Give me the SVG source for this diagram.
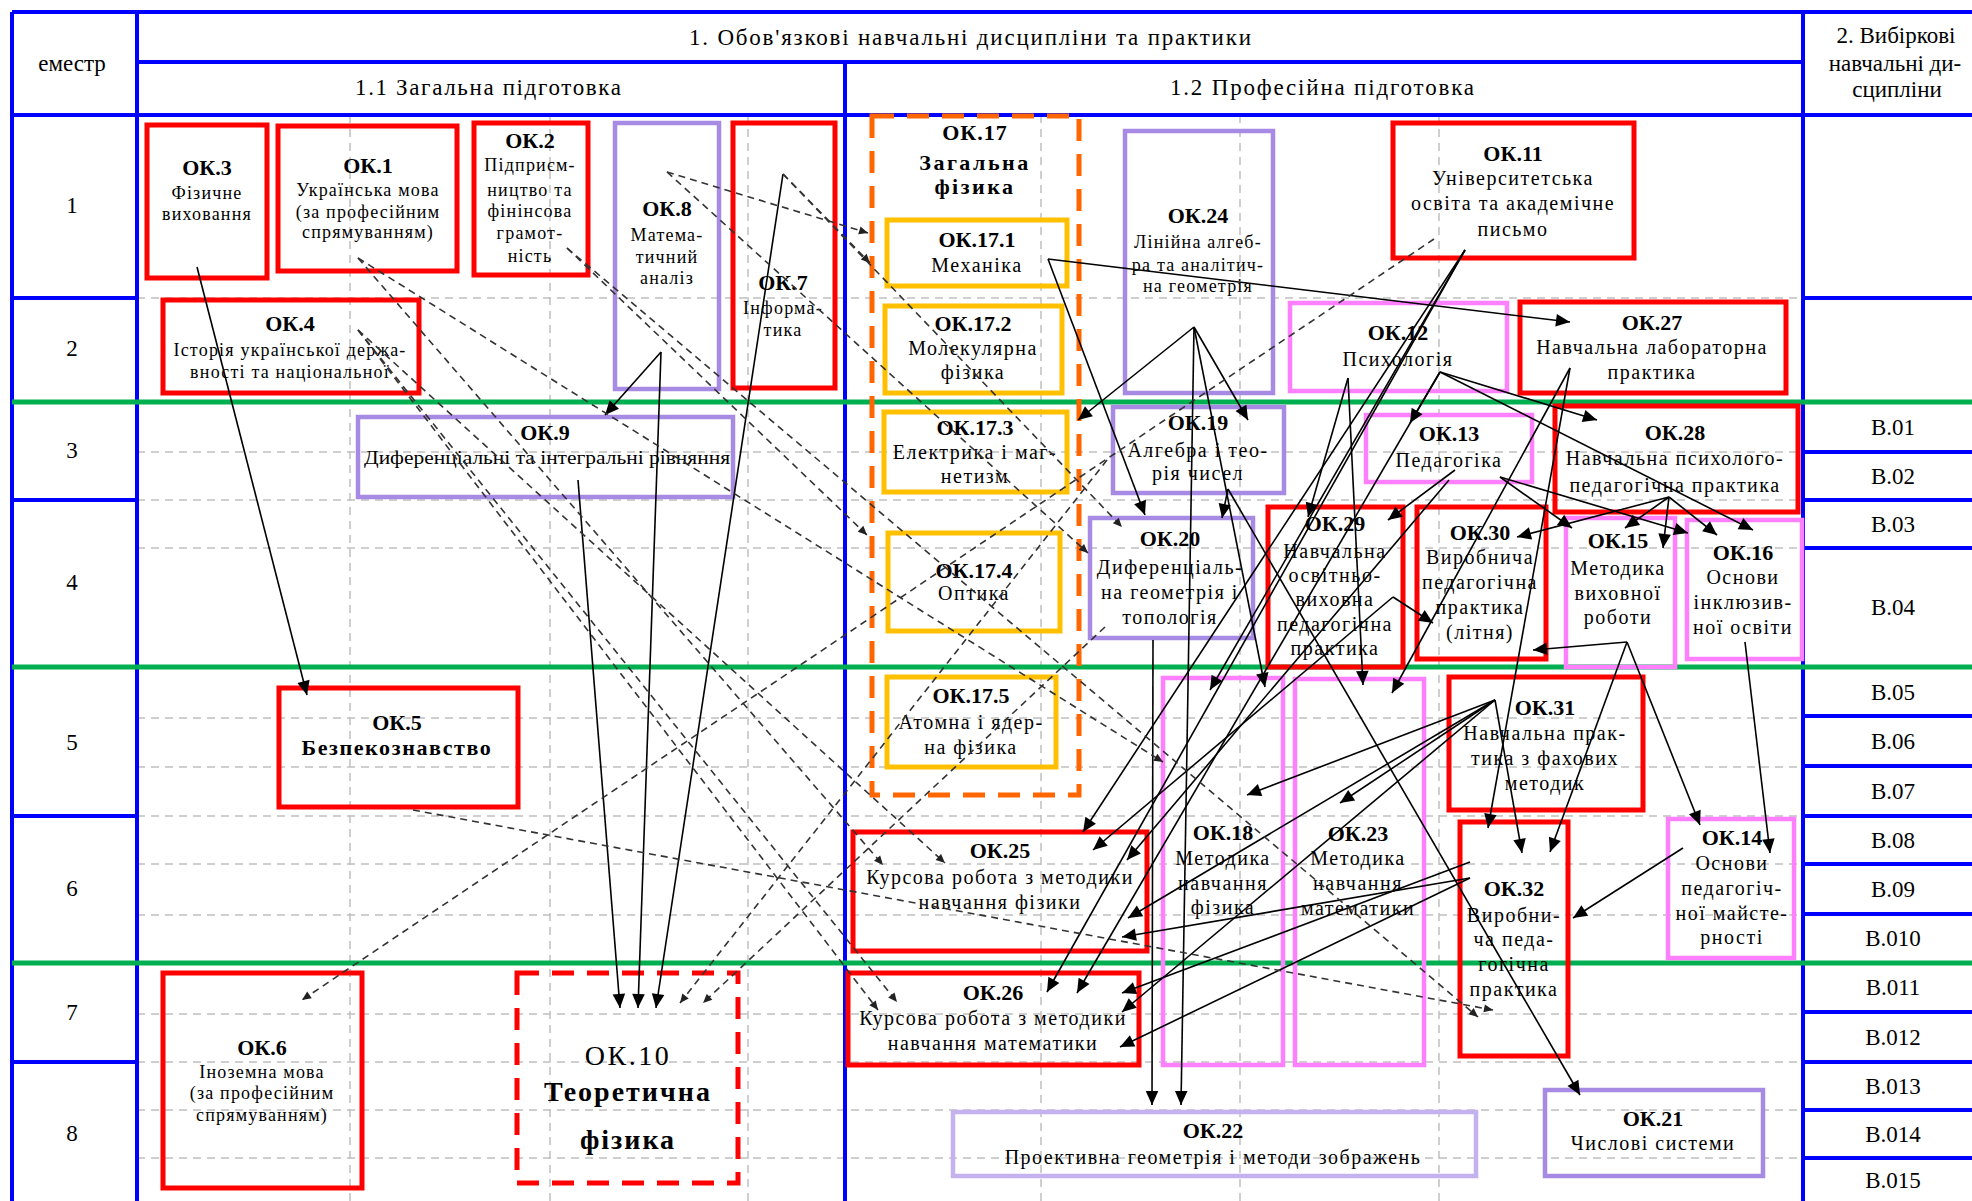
<svg xmlns="http://www.w3.org/2000/svg" width="1972" height="1201" viewBox="0 0 1972 1201">
<defs>
<marker id="a" viewBox="0 0 10 10" refX="10" refY="5" markerWidth="16" markerHeight="14" markerUnits="userSpaceOnUse" orient="auto"><path d="M0,0.5 L10,5 L0,9.5z" fill="#000"/></marker>
<marker id="d" viewBox="0 0 10 10" refX="10" refY="5" markerWidth="10" markerHeight="9" markerUnits="userSpaceOnUse" orient="auto"><path d="M0,0.5 L10,5 L0,9.5z" fill="#222"/></marker>
</defs>
<style>
text{font-family:"Liberation Serif","Times New Roman",serif;fill:#000;text-anchor:middle;dominant-baseline:central}
.t{font-size:22px;font-weight:bold}
.s{font-size:20px;letter-spacing:1.5px}
.ss{font-size:18px;letter-spacing:1.2px}
.h{font-size:23px}
.gd{stroke:#c0c0c0;stroke-width:1.5;stroke-dasharray:8 6;fill:none}
.bl{stroke:#0000ff;stroke-width:4;fill:none}
.gn{stroke:#00b050;stroke-width:5;fill:none}
.r{fill:none;stroke:#ff0000;stroke-width:5}
.p{fill:none;stroke:#a68ae4;stroke-width:4.5}
.m{fill:none;stroke:#ff80ff;stroke-width:4.5}
.y{fill:none;stroke:#ffc000;stroke-width:5}
.c{stroke:#000;stroke-width:1.6;fill:none;marker-end:url(#a)}
.cd{stroke:#333;stroke-width:1.6;fill:none;stroke-dasharray:7 5;marker-end:url(#d)}
</style>
<rect width="1972" height="1201" fill="#fff"/>
<g id="grid">
<path class="gd" d="M137,298H1803M137,452H1803M137,500H1803M137,548H1803M137,718H1803M137,767H1803M137,816H1803M137,864H1803M137,915H1803M137,1014H1803M137,1062H1803M137,1110H1803M137,1158H1803"/>
<path class="gd" d="M350,115V1201M550,115V1201M748,115V1201M1041,115V1201M1240,115V1201M1439,115V1201"/>
<path class="bl" d="M12,12H1972M12,115H1972M137,62H1803M12,12V1201M137,12V1201M845,62V1201M1803,12V1201"/>
<path class="bl" d="M12,298H137M12,500H137M12,816H137M12,1062H137"/>
<path class="bl" d="M1803,298H1972M1803,452H1972M1803,500H1972M1803,548H1972M1803,716H1972M1803,766H1972M1803,816H1972M1803,864H1972M1803,914H1972M1803,1012H1972M1803,1062H1972M1803,1110H1972M1803,1158H1972"/>
<path class="gn" d="M12,402H1972M12,667H1972M12,963H1972"/>
</g>
<g id="headers">
<text class="h" x="72" y="63" font-size="21">еместр</text>
<text class="h" x="970" y="37" textLength="562" lengthAdjust="spacing">1. Обов'язкові навчальні дисципліни та практики</text>
<text class="h" x="488" y="87" textLength="266" lengthAdjust="spacing">1.1 Загальна підготовка</text>
<text class="h" x="1322" y="87" textLength="304" lengthAdjust="spacing">1.2 Професійна підготовка</text>
<text class="h" x="1896" y="35">2. Вибіркові</text>
<text class="h" x="1895" y="63">навчальні ди-</text>
<text class="h" x="1897" y="89">сципліни</text>
<text class="h" x="72" y="205">1</text>
<text class="h" x="72" y="348">2</text>
<text class="h" x="72" y="450">3</text>
<text class="h" x="72" y="582">4</text>
<text class="h" x="72" y="742">5</text>
<text class="h" x="72" y="888">6</text>
<text class="h" x="72" y="1012">7</text>
<text class="h" x="72" y="1133">8</text>
</g>
<g id="electives">
<text class="h" x="1893" y="427">В.01</text>
<text class="h" x="1893" y="476">В.02</text>
<text class="h" x="1893" y="524">В.03</text>
<text class="h" x="1893" y="607">В.04</text>
<text class="h" x="1893" y="692">В.05</text>
<text class="h" x="1893" y="741">В.06</text>
<text class="h" x="1893" y="791">В.07</text>
<text class="h" x="1893" y="840">В.08</text>
<text class="h" x="1893" y="889">В.09</text>
<text class="h" x="1893" y="938">В.010</text>
<text class="h" x="1893" y="987">В.011</text>
<text class="h" x="1893" y="1037">В.012</text>
<text class="h" x="1893" y="1086">В.013</text>
<text class="h" x="1893" y="1134">В.014</text>
<text class="h" x="1893" y="1180">В.015</text>
</g>
<g id="ok3"><rect class="r" x="147" y="125" width="120" height="153"/><text class="t" x="207" y="167">ОК.3</text><text class="ss" x="207" y="193">Фізичне</text><text class="ss" x="207" y="214">виховання</text></g>
<g id="ok1"><rect class="r" x="278" y="126" width="179" height="145"/><text class="t" x="368" y="165">ОК.1</text><text class="ss" x="368" y="190">Українська мова</text><text class="ss" x="368" y="212">(за професійним</text><text class="ss" x="368" y="232">спрямуванням)</text></g>
<g id="ok2"><rect class="r" x="474" y="123" width="114" height="152"/><text class="t" x="530" y="140">ОК.2</text><text class="ss" x="530" y="165">Підприєм-</text><text class="ss" x="530" y="190">ництво та</text><text class="ss" x="530" y="211">фінінсова</text><text class="ss" x="530" y="233">грамот-</text><text class="ss" x="530" y="256">ність</text></g>
<g id="ok8"><rect class="p" x="615" y="123" width="104" height="266"/><text class="t" x="667" y="208">ОК.8</text><text class="ss" x="667" y="235">Матема-</text><text class="ss" x="667" y="257">тичний</text><text class="ss" x="667" y="278">аналіз</text></g>
<g id="ok7"><rect class="r" x="733" y="123" width="102" height="265"/><text class="t" x="783" y="282">ОК.7</text><text class="ss" x="783" y="308">Інформа-</text><text class="ss" x="783" y="330">тика</text></g>
<g id="ok4"><rect class="r" x="163" y="300" width="256" height="93"/><text class="t" x="290" y="323">ОК.4</text><text class="ss" x="290" y="350">Історія української держа-</text><text class="ss" x="290" y="372">вності  та національної</text></g>
<g id="ok9"><rect class="p" x="358" y="417" width="375" height="80"/><text class="t" x="545" y="432">ОК.9</text><text x="547" y="458" font-size="18" textLength="366" lengthAdjust="spacingAndGlyphs">Диференціальні та інтегральні рівняння</text></g>
<g id="ok17"><rect x="872" y="116" width="207" height="679" fill="none" stroke="#ff6600" stroke-width="5" stroke-dasharray="22 13"/><text class="t" x="975" y="132" letter-spacing="1">ОК.17</text><text class="t" x="975" y="162" letter-spacing="2.5">Загальна</text><text class="t" x="975" y="186" letter-spacing="2.5">фізика</text></g>
<g id="ok17-1"><rect class="y" x="887" y="220" width="180" height="66"/><text class="t" x="977" y="239">ОК.17.1</text><text class="s" x="977" y="265">Механіка</text></g>
<g id="ok17-2"><rect class="y" x="885" y="306" width="177" height="87"/><text class="t" x="973" y="323">ОК.17.2</text><text class="s" x="973" y="348">Молекулярна</text><text class="s" x="973" y="372">фізика</text></g>
<g id="ok17-3"><rect class="y" x="884" y="412" width="183" height="80"/><text class="t" x="975" y="427">ОК.17.3</text><text class="s" x="975" y="452">Електрика і маг-</text><text class="s" x="975" y="476">нетизм</text></g>
<g id="ok17-4"><rect class="y" x="888" y="533" width="172" height="98"/><text class="t" x="974" y="570">ОК.17.4</text><text class="s" x="974" y="593">Оптика</text></g>
<g id="ok17-5"><rect class="y" x="887" y="677" width="169" height="90"/><text class="t" x="971" y="695">ОК.17.5</text><text class="s" x="971" y="722">Атомна і ядер-</text><text class="s" x="971" y="747">на фізика</text></g>
<g id="ok24"><rect class="p" x="1125" y="131" width="148" height="262"/><text class="t" x="1198" y="215">ОК.24</text><text class="ss" x="1198" y="242">Лінійна алгеб-</text><text class="ss" x="1198" y="265">ра та аналітич-</text><text class="ss" x="1198" y="286">на геометрія</text></g>
<g id="ok11"><rect class="r" x="1393" y="123" width="241" height="135"/><text class="t" x="1513" y="153">ОК.11</text><text class="s" x="1513" y="178">Університетська</text><text class="s" x="1513" y="203">освіта та академічне</text><text class="s" x="1513" y="229">письмо</text></g>
<g id="ok12"><rect class="m" x="1290" y="303" width="217" height="88"/><text class="t" x="1398" y="332">ОК.12</text><text class="s" x="1398" y="359" font-size="21">Психологія</text></g>
<g id="ok27"><rect class="r" x="1520" y="302" width="266" height="91"/><text class="t" x="1652" y="322">ОК.27</text><text class="s" x="1652" y="347">Навчальна лабораторна</text><text class="s" x="1652" y="372">практика</text></g>
<g id="ok19"><rect class="p" x="1113" y="407" width="171" height="86"/><text class="t" x="1198" y="422">ОК.19</text><text class="s" x="1198" y="450">Алгебра і тео-</text><text class="s" x="1198" y="473">рія чисел</text></g>
<g id="ok13"><rect class="m" x="1366" y="415" width="166" height="67"/><text class="t" x="1449" y="433">ОК.13</text><text class="s" x="1449" y="460">Педагогіка</text></g>
<g id="ok28"><rect class="r" x="1555" y="406" width="243" height="106"/><text class="t" x="1675" y="432">ОК.28</text><text class="s" x="1675" y="458">Навчальна психолого-</text><text class="s" x="1675" y="485">педагогічна  практика</text></g>
<g id="ok20"><rect class="p" x="1090" y="518" width="163" height="120"/><text class="t" x="1170" y="538">ОК.20</text><text class="s" x="1170" y="567">Диференціаль-</text><text class="s" x="1170" y="592">на геометрія і</text><text class="s" x="1170" y="617">топологія</text></g>
<g id="ok29"><rect class="r" x="1268" y="507" width="135" height="160"/><text class="t" x="1335" y="523">ОК.29</text><text class="s" x="1335" y="551">Навчальна</text><text class="s" x="1335" y="575">освітньо-</text><text class="s" x="1335" y="599">виховна</text><text class="s" x="1335" y="624">педагогічна</text><text class="s" x="1335" y="648">практика</text></g>
<g id="ok30"><rect class="r" x="1417" y="507" width="129" height="152"/><text class="t" x="1480" y="532">ОК.30</text><text class="s" x="1480" y="557">Виробнича</text><text class="s" x="1480" y="582">педагогічна</text><text class="s" x="1480" y="607">практика</text><text class="s" x="1480" y="632">(літня)</text></g>
<g id="ok15"><rect class="m" x="1566" y="518" width="109" height="149"/><text class="t" x="1618" y="540">ОК.15</text><text class="s" x="1618" y="568">Методика</text><text class="s" x="1618" y="593">виховної</text><text class="s" x="1618" y="617">роботи</text></g>
<g id="ok16"><rect class="m" x="1687" y="520" width="115" height="139"/><text class="t" x="1743" y="552">ОК.16</text><text class="s" x="1743" y="577">Основи</text><text class="s" x="1743" y="602">інклюзив-</text><text class="s" x="1743" y="627">ної освіти</text></g>
<g id="ok5"><rect class="r" x="279" y="688" width="239" height="119"/><text class="t" x="397" y="722">ОК.5</text><text class="t" x="397" y="747" font-size="21" letter-spacing="1.6">Безпекознавство</text></g>
<g id="ok18"><rect class="m" x="1163" y="678" width="120" height="387"/><text class="t" x="1223" y="832">ОК.18</text><text class="s" x="1223" y="858">Методика</text><text class="s" x="1223" y="883">навчання</text><text class="s" x="1223" y="907">фізика</text></g>
<g id="ok23"><rect class="m" x="1295" y="679" width="129" height="386"/><text class="t" x="1358" y="833">ОК.23</text><text class="s" x="1358" y="858">Методика</text><text class="s" x="1358" y="883">навчання</text><text class="s" x="1358" y="908">математики</text></g>
<g id="ok31"><rect class="r" x="1449" y="677" width="194" height="133"/><text class="t" x="1545" y="707">ОК.31</text><text class="s" x="1545" y="733">Навчальна прак-</text><text class="s" x="1545" y="758">тика з фахових</text><text class="s" x="1545" y="783">методик</text></g>
<g id="ok25"><rect class="r" x="853" y="832" width="294" height="119"/><text class="t" x="1000" y="850">ОК.25</text><text class="s" x="1000" y="877">Курсова робота з методики</text><text class="s" x="1000" y="902">навчання фізики</text></g>
<g id="ok32"><rect class="r" x="1460" y="822" width="108" height="234"/><text class="t" x="1514" y="888">ОК.32</text><text class="s" x="1514" y="915">Виробни-</text><text class="s" x="1514" y="939">ча педа-</text><text class="s" x="1514" y="964">гогічна</text><text class="s" x="1514" y="989">практика</text></g>
<g id="ok14"><rect class="m" x="1668" y="819" width="126" height="139"/><text class="t" x="1732" y="837">ОК.14</text><text class="s" x="1732" y="863">Основи</text><text class="s" x="1732" y="888">педагогіч-</text><text class="s" x="1732" y="913">ної майсте-</text><text class="s" x="1732" y="937">рності</text></g>
<g id="ok6"><rect class="r" x="163" y="973" width="199" height="215"/><text class="t" x="262" y="1047">ОК.6</text><text class="ss" x="262" y="1072">Іноземна мова</text><text class="ss" x="262" y="1093">(за професійним</text><text class="ss" x="262" y="1115">спрямуванням)</text></g>
<g id="ok10"><rect x="517" y="973" width="221" height="210" fill="none" stroke="#ff0000" stroke-width="5" stroke-dasharray="22 13"/><text x="628" y="1055" font-size="28" letter-spacing="2.5">ОК.10</text><text x="628" y="1091" font-size="28" font-weight="bold" letter-spacing="2">Теоретична</text><text x="628" y="1139" font-size="28" font-weight="bold" letter-spacing="2">фізика</text></g>
<g id="ok26"><rect class="r" x="848" y="973" width="291" height="92"/><text class="t" x="993" y="992">ОК.26</text><text class="s" x="993" y="1018">Курсова робота з методики</text><text class="s" x="993" y="1043">навчання математики</text></g>
<g id="ok22"><rect fill="none" stroke="#c4b2ef" stroke-width="4.5" x="953" y="1112" width="523" height="64"/><text class="t" x="1213" y="1130">ОК.22</text><text class="s" x="1213" y="1157">Проективна геометрія і методи зображень</text></g>
<g id="ok21"><rect class="p" x="1545" y="1090" width="218" height="86"/><text class="t" x="1653" y="1118">ОК.21</text><text class="s" x="1653" y="1143">Числові системи</text></g>
<g id="connectors">
<path class="c" d="M197,267L307,695"/>
<path class="c" d="M661,352L605,415"/>
<path class="c" d="M661,352L638,1008"/>
<path class="c" d="M783,174L656,1008"/>
<path class="c" d="M578,480L620,1008"/>
<path class="c" d="M1048,259L1570,322"/>
<path class="c" d="M1048,259L1145,515"/>
<path class="c" d="M1194,327L1078,420"/>
<path class="c" d="M1194,327L1248,420"/>
<path class="c" d="M1194,327L1181,1105"/>
<path class="c" d="M1194,327L1265,687"/>
<path class="c" d="M1228,489L1222,518"/>
<path class="c" d="M1228,489L1580,1095"/>
<path class="c" d="M1153,640L1152,1105"/>
<path class="c" d="M1465,250L1210,690"/>
<path class="c" d="M1465,250L1083,832"/>
<path class="c" d="M1465,250L1047,992"/>
<path class="c" d="M1348,378L1308,517"/>
<path class="c" d="M1348,378L1363,685"/>
<path class="c" d="M1440,372L1410,423"/>
<path class="c" d="M1440,372L1597,420"/>
<path class="c" d="M1440,372L1753,530"/>
<path class="c" d="M1440,372L1077,993"/>
<path class="c" d="M1570,368L1488,828"/>
<path class="c" d="M1570,368L1392,693"/>
<path class="c" d="M1669,497L1625,528"/>
<path class="c" d="M1669,497L1663,548"/>
<path class="c" d="M1669,497L1717,535"/>
<path class="c" d="M1669,497L1517,537"/>
<path class="c" d="M1500,477L1572,528"/>
<path class="c" d="M1500,477L1688,533"/>
<path class="c" d="M1455,470L1388,520"/>
<path class="c" d="M1449,480L1127,860"/>
<path class="c" d="M1627,642L1533,650"/>
<path class="c" d="M1627,642L1550,852"/>
<path class="c" d="M1627,642L1700,825"/>
<path class="c" d="M1745,642L1770,853"/>
<path class="c" d="M1683,848L1573,918"/>
<path class="c" d="M1495,700L1522,853"/>
<path class="c" d="M1495,700L1128,918"/>
<path class="c" d="M1495,700L1122,1012"/>
<path class="c" d="M1495,700L1247,795"/>
<path class="c" d="M1495,700L1340,803"/>
<path class="c" d="M1393,597L1433,623"/>
<path class="c" d="M1393,597L1093,850"/>
<path class="c" d="M1470,878L1122,937"/>
<path class="c" d="M1470,878L1120,1047"/>
<path class="c" d="M1470,862L1122,993"/>
<path class="cd" d="M1434,239L302,1000"/>
<path class="cd" d="M667,172L868,233"/>
<path class="cd" d="M783,174L870,263"/>
<path class="cd" d="M667,172L1088,553"/>
<path class="cd" d="M783,174L1122,527"/>
<path class="cd" d="M358,258L883,865"/>
<path class="cd" d="M358,258L1163,762"/>
<path class="cd" d="M358,330L878,1010"/>
<path class="cd" d="M358,330L945,863"/>
<path class="cd" d="M358,330L897,1002"/>
<path class="cd" d="M567,248L1478,1017"/>
<path class="cd" d="M567,248L867,535"/>
<path class="cd" d="M1105,627L703,1003"/>
<path class="cd" d="M1107,460L680,1003"/>
<path class="cd" d="M413,810L1493,1010"/>
</g>
</svg>
